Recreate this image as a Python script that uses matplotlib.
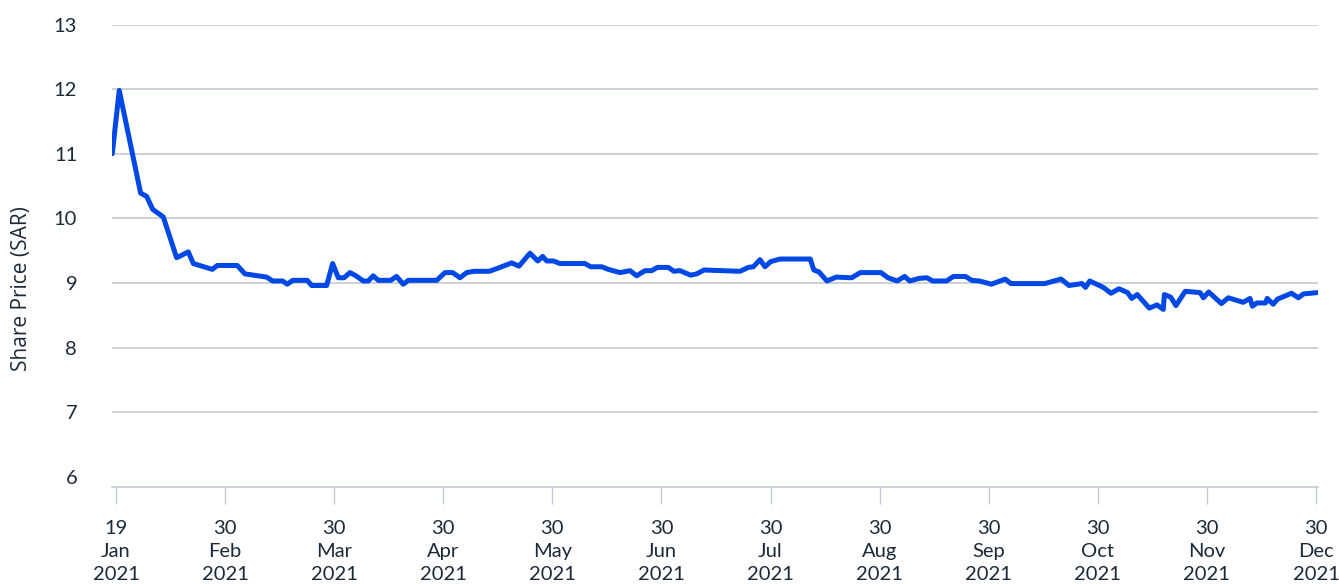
import matplotlib.pyplot as plt

# x positions in "tick units": 0 = 19 Jan, 1 = 30 Feb, ..., 11 = 30 Dec
x_pos = [-0.034, 0.030, 0.226, 0.281, 0.336, 0.434, 0.556, 0.663, 0.709, 0.883,
         0.929, 1.112, 1.182, 1.381, 1.436, 1.528, 1.570, 1.620, 1.754, 1.794,
         1.931, 1.986, 2.038, 2.090, 2.145, 2.200, 2.267, 2.313, 2.358, 2.404,
         2.518, 2.572, 2.633, 2.680, 2.940, 3.016, 3.086, 3.153, 3.215, 3.282,
         3.422, 3.520, 3.627, 3.694, 3.795, 3.866, 3.911, 3.948, 4.009, 4.070,
         4.299, 4.351, 4.452, 4.513, 4.620, 4.712, 4.773, 4.849, 4.911, 4.962,
         5.063, 5.115, 5.170, 5.268, 5.323, 5.390, 5.720, 5.796, 5.842, 5.903,
         5.949, 6.001, 6.087, 6.364, 6.397, 6.444, 6.517, 6.602, 6.744, 6.823,
         7.013, 7.076, 7.161, 7.228, 7.276, 7.361, 7.433, 7.487, 7.614, 7.676,
         7.787, 7.844, 7.914, 8.025, 8.151, 8.204, 8.514, 8.663, 8.736, 8.855,
         8.887, 8.926, 9.051, 9.121, 9.194, 9.273, 9.311, 9.361, 9.472, 9.542,
         9.600, 9.610, 9.668, 9.716, 9.801, 9.937, 9.968, 10.016, 10.133, 10.196,
         10.332, 10.395, 10.417, 10.458, 10.537, 10.553, 10.607, 10.648, 10.775, 10.838,
         10.885, 11.011]
price = [11.00, 11.98, 10.39, 10.34, 10.14, 10.02, 9.39, 9.48, 9.30, 9.21,
         9.27, 9.27, 9.14, 9.09, 9.03, 9.03, 8.98, 9.04, 9.04, 8.96,
         8.96, 9.30, 9.08, 9.08, 9.16, 9.11, 9.03, 9.03, 9.11, 9.04,
         9.04, 9.10, 8.98, 9.04, 9.04, 9.16, 9.16, 9.08, 9.16, 9.18,
         9.18, 9.24, 9.31, 9.26, 9.46, 9.34, 9.41, 9.34, 9.34, 9.30,
         9.30, 9.25, 9.25, 9.21, 9.16, 9.19, 9.11, 9.19, 9.19, 9.24,
         9.24, 9.18, 9.19, 9.12, 9.14, 9.20, 9.18, 9.24, 9.25, 9.36,
         9.25, 9.33, 9.37, 9.37, 9.20, 9.17, 9.03, 9.09, 9.08, 9.16,
         9.16, 9.08, 9.03, 9.10, 9.03, 9.07, 9.08, 9.03, 9.03, 9.10,
         9.10, 9.04, 9.03, 8.98, 9.06, 8.99, 8.99, 9.06, 8.96, 8.99,
         8.93, 9.03, 8.93, 8.84, 8.91, 8.85, 8.76, 8.82, 8.61, 8.66,
         8.59, 8.82, 8.78, 8.65, 8.87, 8.85, 8.77, 8.86, 8.68, 8.77,
         8.70, 8.76, 8.64, 8.69, 8.69, 8.76, 8.67, 8.75, 8.84, 8.77,
         8.83, 8.85]

tick_labels = ["19\nJan\n2021", "30\nFeb\n2021", "30\nMar\n2021", "30\nApr\n2021",
               "30\nMay\n2021", "30\nJun\n2021", "30\nJul\n2021", "30\nAug\n2021",
               "30\nSep\n2021", "30\nOct\n2021", "30\nNov\n2021", "30\nDec\n2021"]
y_ticks = [6, 7, 8, 9, 10, 11, 12, 13]

text_col = "#1b2a3a"
grid_col = "#c3c9cf"

fig = plt.figure(figsize=(13.39, 5.84), dpi=100)
ax = fig.add_axes([0.0836, 0.166, 0.9007, 0.792])

ax.plot(x_pos, price, color="#0048e4", lw=3.6, solid_joinstyle="round",
        solid_capstyle="round", zorder=3)

ax.set_xlim(-0.037, 11.018)
ax.set_ylim(5.84, 13)
ax.set_yticks(y_ticks)
ax.set_xticks(range(len(tick_labels)))
ax.set_xticklabels(tick_labels, linespacing=1.43)

ax.grid(axis="y", color=grid_col, lw=1.2)
ax.yaxis.get_gridlines()[0].set_visible(False)
ax.set_axisbelow(True)

for s in ["left", "right", "top"]:
    ax.spines[s].set_visible(False)
ax.spines["bottom"].set_color(grid_col)
ax.spines["bottom"].set_linewidth(1.2)

ax.tick_params(axis="y", length=0, pad=25, labelsize=14.5, labelcolor=text_col)
ax.tick_params(axis="x", length=12, width=1.0, color=grid_col, pad=12,
               labelsize=14.5, labelcolor=text_col)
for lab in ax.get_xticklabels() + ax.get_yticklabels():
    lab.set_family("Lato")

ax.set_ylabel("Share Price (SAR)", fontsize=15, color=text_col, family="Open Sans")
ax.yaxis.set_label_coords(-0.066, 0.43)

fig.savefig("out.png", dpi=100)
